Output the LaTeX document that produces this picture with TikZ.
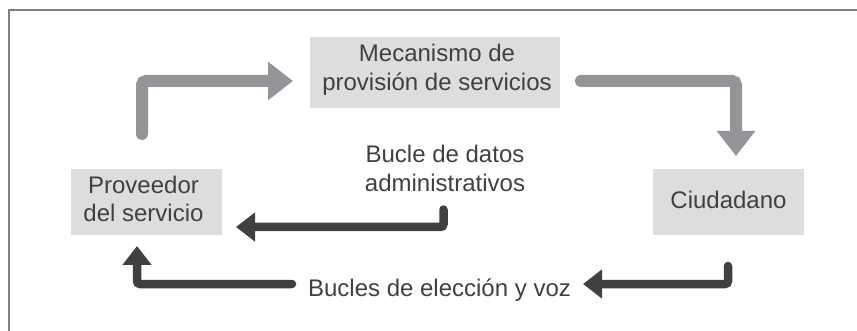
\documentclass[tikz,border=0pt]{standalone}
\usepackage{fontspec}
\setmainfont{Liberation Sans}
\usetikzlibrary{arrows.meta}
\definecolor{boxgray}{HTML}{DCDDDE}
\definecolor{arrowgray}{HTML}{939598}
\definecolor{inkgray}{HTML}{404041}
\definecolor{framegray}{HTML}{808080}
\begin{document}
\begin{tikzpicture}[x=1pt,y=-1pt,
  box/.style={fill=boxgray, draw=none, inner sep=0pt},
  txt/.style={text=inkgray, font=\fontsize{24}{28.5}\selectfont, align=center, inner sep=0pt},
  lightarrow/.style={draw=arrowgray, line width=12pt, line cap=round, rounded corners=4pt,
    -{Triangle[length=25pt,width=37pt]}},
  darkarrow/.style={draw=inkgray, line width=8.5pt, line cap=round, rounded corners=3pt,
    -{Triangle[length=19pt,width=28pt]}},
  framestyle/.style={draw=framegray, line width=1.5pt}
]
\path[use as bounding box] (0,0) rectangle (857,331);
\draw[framestyle] (9,331) -- (9,10) -- (857,10);

% boxes
\node[box, minimum width=250pt, minimum height=71pt] (mec) at (435,72.5) {};
\node[txt] (mect) at ([yshift=2.5pt,xshift=2pt]mec.center) {Mecanismo de\\provisión de servicios};
\node[box, minimum width=151pt, minimum height=66pt] (prov) at (146.5,202) {};
\node[txt] (provt) at ([yshift=3pt,xshift=-3pt]prov.center) {Proveedor\\del servicio};
\node[box, minimum width=151pt, minimum height=66pt] (ciu) at (728.5,202) {};
\node[txt] (ciut) at ([yshift=2.5pt]ciu.center) {Ciudadano};

% labels
\node[txt] (datos) at (445,168.5) {Bucle de datos\\administrativos};
\node[txt, anchor=base] (elec) at (439.5,297) {Bucles de elección y voz};

% connector end points
\coordinate (a1s) at (142,134);
\coordinate (a1e) at (293,81);
\coordinate (a2s) at (581,81);
\coordinate (a2e) at (736,156);
\coordinate (a3s) at (443.5,209.5);
\coordinate (a3e) at (236,227);
\coordinate (a4s) at (728,266);
\coordinate (a4e) at (583,284);
\coordinate (a5s) at (292,284);
\coordinate (a5e) at (137,246);

\draw[lightarrow] (a1s) |- (a1e);
\draw[lightarrow] (a2s) -| (a2e);
\draw[darkarrow] (a3s) |- (a3e);
\draw[darkarrow] (a4s) |- (a4e);
\draw[darkarrow] (a5s) -| (a5e);
\end{tikzpicture}
\end{document}
